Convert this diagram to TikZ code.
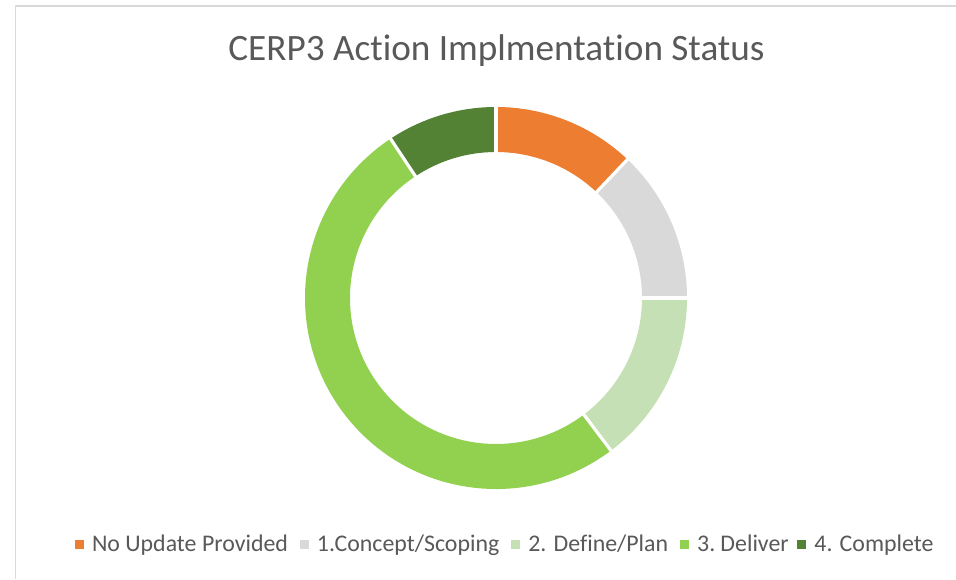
\documentclass[tikz,border=0pt]{standalone}
\usepackage{fontspec}
\setmainfont{Carlito}[Ligatures=NoCommon]
\usetikzlibrary{positioning,calc}
\definecolor{cOrange}{HTML}{ED7D31}
\definecolor{cGrey}{HTML}{D9D9D9}
\definecolor{cPale}{HTML}{C5E0B4}
\definecolor{cBright}{HTML}{92D050}
\definecolor{cDark}{HTML}{548235}
\definecolor{cText}{HTML}{595959}
\definecolor{cFrame}{HTML}{D9D9D9}
\tikzset{
  legsq/.style={fill=#1, minimum size=6.75pt, inner sep=0pt, outer sep=0pt, anchor=west},
  legtxt/.style={text=cText, font=\fontsize{17.9pt}{21pt}\selectfont, inner sep=0pt, outer sep=0pt, anchor=base west},
  sep/.style={white, line width=2.4pt},
}
\newcommand{\slice}[3]{%
  \fill[#3] ($(c)+(#1:191)$) arc[start angle=#1, end angle=#2, radius=191] -- ($(c)+(#2:146)$) arc[start angle=#2, end angle=#1, radius=146] -- cycle;}
\begin{document}
\begin{tikzpicture}[x=0.75pt,y=0.75pt]
\useasboundingbox (0,0) rectangle (956,579);
\fill[white] (0,0) rectangle (956,579);
\draw[cFrame, line width=0.8pt] (15.5,0) -- (15.5,573) -- (956,573);
\coordinate (c) at (496,281);
\slice{90}{46.5}{cOrange}
\slice{46.5}{0}{cGrey}
\slice{0}{-53}{cPale}
\slice{-53}{-236.5}{cBright}
\slice{-236.5}{-270}{cDark}
\foreach \a in {90,46.5,0,-53,-236.5}
  \draw[sep] ($(c)+(\a:144)$) -- ($(c)+(\a:193)$);
\node[text=cText, font=\fontsize{27.9pt}{32pt}\selectfont, inner sep=0pt, anchor=base] (title) at (496.5,518) {CERP3 Action Implmentation Status};
\coordinate (base) at (0,28);
\coordinate (sqc) at (0,35);
\node[legsq=cOrange] (s1) at (75,35) {};
\node[legtxt] (t1) at ([xshift=6pt]s1.east |- base) {No Update Provided};
\node[legsq=cGrey] (s2) at ([xshift=9pt]t1.east |- sqc) {};
\node[legtxt] (t2) at ([xshift=6pt]s2.east |- base) {1.Concept/Scoping};
\node[legsq=cPale] (s3) at ([xshift=9pt]t2.east |- sqc) {};
\node[legtxt] (t3) at ([xshift=6pt]s3.east |- base) {2. Define/Plan};
\node[legsq=cBright] (s4) at ([xshift=9pt]t3.east |- sqc) {};
\node[legtxt] (t4) at ([xshift=6pt]s4.east |- base) {3.\kern-1.5pt{} Deliver};
\node[legsq=cDark] (s5) at ([xshift=6.5pt]t4.east |- sqc) {};
\node[legtxt] (t5) at ([xshift=6pt]s5.east |- base) {4. Complete};
\end{tikzpicture}
\end{document}
